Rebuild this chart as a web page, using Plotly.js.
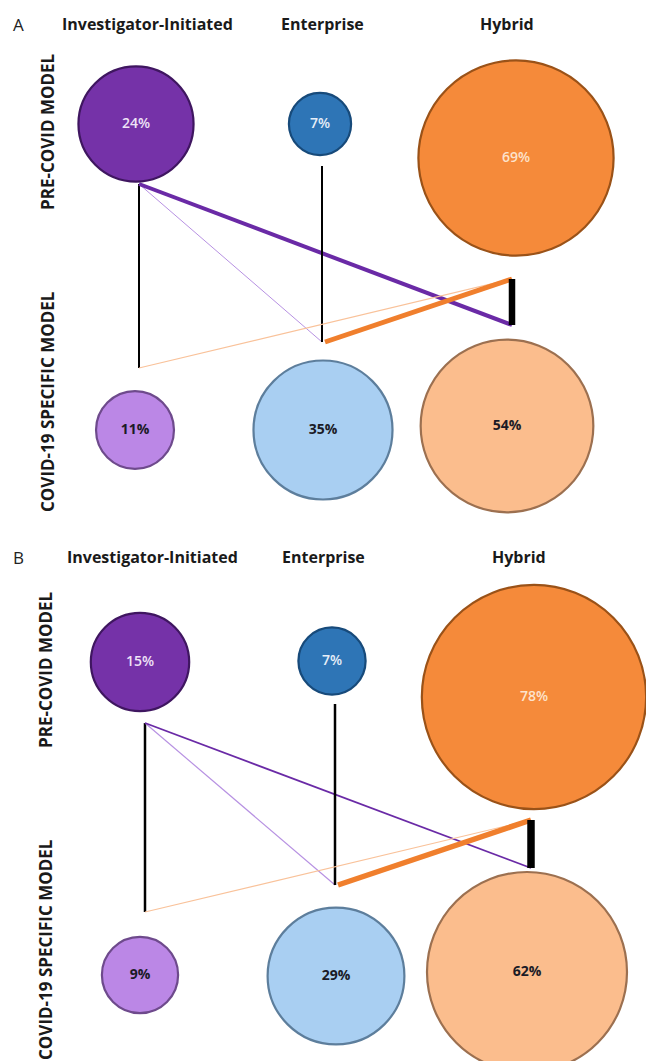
<!DOCTYPE html>
<html>
<head>
<meta charset="utf-8">
<script src="https://cdn.plot.ly/plotly-3.0.1.min.js"></script>
<style>html,body{margin:0;padding:0;background:#fff;}#chart{width:646px;height:1061px;}</style>
</head>
<body>
<div id="chart"></div>
<script>
// ---------- DATA ----------
const categories = ['Investigator-Initiated', 'Enterprise', 'Hybrid'];
const rowLabels = ['PRE-COVID MODEL', 'COVID-19 SPECIFIC MODEL'];
const panelLabels = ['A', 'B'];
const preCovidA = [24, 7, 69];
const covidSpecificA = [11, 35, 54];
const preCovidB = [15, 7, 78];
const covidSpecificB = [9, 29, 62];
// transitions: from pre-COVID model column -> COVID-19 specific model column
const linkSource = [0, 0, 0, 1, 2, 2, 2];
const linkTarget = [0, 1, 2, 1, 0, 1, 2];

// ---------- STYLE / GEOMETRY (pixel layout) ----------
const geom = [
  { // panel A
    titleY: 24, labelX: 18,
    titleX: [147, 322, 507],
    rowLabelX: 47,
    rowLabelY: [132, 402],
    preX: [136, 320, 516], preY: [124, 124, 158],
    covX: [135, 323, 507], covY: [430, 430, 426],
    lineX: [139, 322, 512],
    anchorTop: [184, 166, 279],
    anchorBot: [368, 342, 325],
    sizeK: 23.5,
    linkW: [2, 1, 4, 2, 1.2, 5, 6.5]
  },
  { // panel B
    titleY: 557, labelX: 18,
    titleX: [152, 323, 519],
    rowLabelX: 45,
    rowLabelY: [670, 950],
    preX: [140, 332, 534], preY: [662, 661, 697],
    covX: [140, 336, 527], covY: [975, 976, 972],
    lineX: [145, 335, 531],
    anchorTop: [723, 704, 820],
    anchorBot: [912, 885, 868],
    sizeK: 25.4,
    linkW: [2.5, 1.2, 1.8, 2.5, 1.2, 5.5, 7.5]
  }
];
const preFill = ['#7532a8', '#2e75b6', '#f58a3a'];
const covFill = ['#bb87e6', '#a9cff2', '#fbbd8d'];
const preEdge = ['#3f1660', '#174a7a', '#9a5218'];
const covEdge = ['#6e4a8c', '#5d7e9c', '#9c7050'];
const linkColor = {
  '0-0': '#000000', '0-1': '#b791e2', '0-2': '#6a2aa6',
  '1-1': '#000000', '2-0': '#f9c29a', '2-1': '#f07f2d', '2-2': '#000000'
};
const FONT = '"Open Sans", Lato, sans-serif';

const data = [];
const annotations = [];
const panelValues = [[preCovidA, covidSpecificA], [preCovidB, covidSpecificB]];

panelValues.forEach(([pre, cov], p) => {
  const g = geom[p];
  // transition lines
  linkSource.forEach((s, i) => {
    const t = linkTarget[i];
    let xs = g.lineX[s], xt = g.lineX[t];
    if (s === 2 && t === 1) xt += 3;
    data.push({
      type: 'scatter', mode: 'lines', hoverinfo: 'skip', showlegend: false,
      x: [xs, xt], y: [g.anchorTop[s], g.anchorBot[t]],
      line: { color: linkColor[s + '-' + t], width: g.linkW[i] }
    });
  });
  // plotly area mode: diameter = sqrt(2*v/sizeref)  -> diameter = K*sqrt(v)
  const sizeref = 2 / (g.sizeK * g.sizeK);
  // pre-COVID circles
  data.push({
    type: 'scatter', mode: 'markers+text', showlegend: false, hoverinfo: 'skip',
    x: g.preX, y: g.preY,
    text: pre.map(v => v + '%'),
    textposition: 'middle center',
    textfont: { family: FONT, size: 14, color: ['#efe3f7', '#e6eef8', '#fde3cc'], weight: 600 },
    marker: { size: pre, sizemode: 'area', sizeref: sizeref, color: preFill, opacity: 1,
              line: { color: preEdge, width: 2.2 } }
  });
  // COVID-19 specific circles
  data.push({
    type: 'scatter', mode: 'markers+text', showlegend: false, hoverinfo: 'skip',
    x: g.covX, y: g.covY,
    text: cov.map(v => v + '%'),
    textposition: 'middle center',
    textfont: { family: FONT, size: 14, color: '#1b1b26', weight: 700 },
    marker: { size: cov, sizemode: 'area', sizeref: sizeref, color: covFill, opacity: 1,
              line: { color: covEdge, width: 2.2 } }
  });
  // column titles
  categories.forEach((c, i) => annotations.push({
    x: g.titleX[i], y: g.titleY, xref: 'x', yref: 'y', text: c, showarrow: false,
    font: { family: FONT, size: 16, color: '#1a1a1a', weight: 700 }, xanchor: 'center', yanchor: 'middle'
  }));
  annotations.push({
    x: g.labelX, y: g.titleY, xref: 'x', yref: 'y', text: panelLabels[p], showarrow: false,
    font: { family: FONT, size: 17, color: '#222' }, xanchor: 'center', yanchor: 'middle'
  });
  rowLabels.forEach((r, i) => annotations.push({
    x: g.rowLabelX, y: g.rowLabelY[i], xref: 'x', yref: 'y', text: r, showarrow: false, textangle: -90,
    font: { family: FONT, size: 17, color: '#1a1a1a', weight: 700 }, xanchor: 'center', yanchor: 'middle'
  }));
});

const layout = {
  width: 646, height: 1061,
  margin: { l: 0, r: 0, t: 0, b: 0 },
  paper_bgcolor: '#ffffff', plot_bgcolor: '#ffffff',
  xaxis: { range: [0, 646], visible: false, fixedrange: true },
  yaxis: { range: [1061, 0], visible: false, fixedrange: true },
  annotations: annotations,
  showlegend: false
};
Plotly.newPlot('chart', data, layout, { staticPlot: true, displayModeBar: false });
</script>
</body>
</html>
